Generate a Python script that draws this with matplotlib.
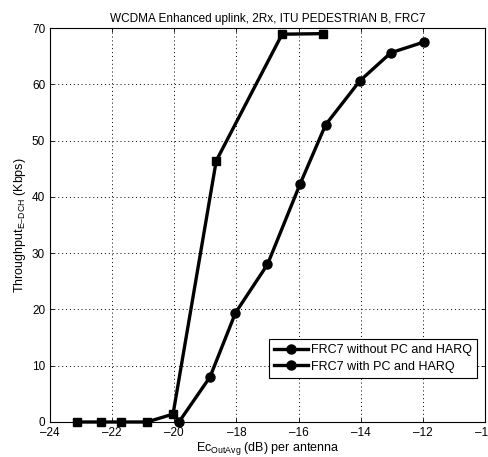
import matplotlib
matplotlib.use("Agg")
import matplotlib.pyplot as plt
from matplotlib.lines import Line2D

plt.rcParams['font.family'] = ['Liberation Sans', 'DejaVu Sans']
plt.rcParams['mathtext.fontset'] = 'custom'
plt.rcParams['mathtext.rm'] = 'Liberation Sans'
plt.rcParams['mathtext.it'] = 'Liberation Sans'

# FRC7 without PC and HARQ
ec_nopc = [-19.85, -18.85, -18.03, -17.0, -15.95, -15.13, -14.03, -13.03, -11.97]
tp_nopc = [0.0, 8.0, 19.4, 28.0, 42.3, 52.8, 60.6, 65.6, 67.5]

# FRC7 with PC and HARQ
ec_pc = [-23.14, -22.35, -21.72, -20.88, -20.04, -18.65, -16.53, -15.2]
tp_pc = [0.0, 0.0, 0.0, 0.0, 1.4, 46.4, 68.9, 69.0]

legend_labels = ["FRC7 without PC and HARQ", "FRC7 with PC and HARQ"]
xticks = [-24, -22, -20, -18, -16, -14, -12, -10]
yticks = [0, 10, 20, 30, 40, 50, 60, 70]

fig = plt.figure(figsize=(4.89, 4.57), dpi=100)
ax = fig.add_axes([50/489, 35/457, 435/489, 394/457])

ax.plot(ec_nopc, tp_nopc, color='k', lw=2.4, marker='o', ms=6.5, mfc='k', mec='k', clip_on=False, zorder=3)
ax.plot(ec_pc, tp_pc, color='k', lw=2.4, marker='s', ms=6, mfc='k', mec='k', clip_on=False, zorder=3)

ax.set_xlim(-24, -10)
ax.set_ylim(0, 70)
ax.set_xticks(xticks)
ax.set_yticks(yticks)
ax.set_xticklabels([str(t).replace('-', '\u2013') for t in xticks])
ax.tick_params(labelsize=8.5, direction='in', length=3, width=0.6, top=True, right=True)
ax.grid(True, linestyle=(0, (1, 3)), color='k', lw=0.7)
for s in ax.spines.values():
    s.set_linewidth(0.8)

ax.set_title("WCDMA Enhanced uplink, 2Rx, ITU PEDESTRIAN B, FRC7", fontsize=8.5, pad=4)
ax.set_xlabel("Ec$_{\\mathrm{OutAvg}}$ (dB) per antenna", fontsize=9, labelpad=1)
ax.set_ylabel("Throughput$_{\\mathrm{E\u2013DCH}}$ (Kbps)", fontsize=9, labelpad=3)

handles = [Line2D([], [], color='k', lw=2.4, marker='o', ms=6.5),
           Line2D([], [], color='k', lw=2.4, marker='o', ms=6.5)]
leg = ax.legend(handles, legend_labels, loc='lower right', bbox_to_anchor=(0.997, 0.097),
                fontsize=9, fancybox=False, framealpha=1, edgecolor='k',
                handlelength=2.7, borderpad=0.4, labelspacing=0.35, handletextpad=0.3)
leg.get_frame().set_linewidth(0.8)

fig.savefig("out.png", dpi=100)
